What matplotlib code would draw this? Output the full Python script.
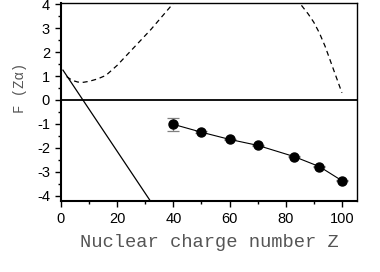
import matplotlib
matplotlib.use('Agg')
import matplotlib.pyplot as plt
from matplotlib.ticker import MultipleLocator

plt.rcParams['axes.unicode_minus'] = False

# measured points with error bars
z_pts = [40, 50, 60, 70, 83, 92, 100]
f_pts = [-1.02, -1.35, -1.65, -1.9, -2.37, -2.79, -3.38]
f_err = [0.26, 0.05, 0.03, 0.03, 0.03, 0.03, 0.03]

# solid straight line
z_lin = [0.7, 32.5]
f_lin = [1.25, -4.35]

# dashed curve (leaves the frame between Z~40 and Z~85)
z_dash = [2, 4, 6, 8, 10, 13, 16, 20, 24, 28, 32, 36, 40, 50, 62, 75,
          85, 88, 90, 92, 94, 96, 98, 100]
f_dash = [0.98, 0.82, 0.75, 0.74, 0.78, 0.88, 1.03, 1.45, 1.95, 2.45,
          2.95, 3.5, 4.05, 5.2, 5.7, 5.2, 4.05, 3.6, 3.25, 2.8, 2.25,
          1.6, 0.95, 0.3]

fig = plt.figure(figsize=(3.8, 2.72), dpi=100)
ax = fig.add_axes([0.1605, 0.261, 0.7785, 0.728])

ax.axhline(0, color='black', lw=1.3)
ax.plot(z_lin, f_lin, color='black', lw=0.9)
ax.plot(z_dash, f_dash, color='black', lw=0.9, ls=(0, (4, 3)))
ax.errorbar(z_pts, f_pts, yerr=f_err, fmt='none', ecolor='gray',
            elinewidth=0.9, capsize=4, capthick=0.9)
ax.plot(z_pts, f_pts, color='black', lw=0.8,
        marker='o', ms=6.5, mfc='black', mec='black')

ax.set_xlim(0, 105.3)
ax.set_ylim(-4.23, 4.06)
ax.xaxis.set_major_locator(MultipleLocator(20))
ax.xaxis.set_minor_locator(MultipleLocator(10))
ax.yaxis.set_major_locator(MultipleLocator(1))
ax.yaxis.set_minor_locator(MultipleLocator(0.5))
ax.tick_params(which='major', direction='out', length=4, width=1,
               labelsize=10.5, pad=4)
ax.tick_params(which='minor', direction='out', length=2.5, width=1)
for lab in ax.get_xticklabels() + ax.get_yticklabels():
    lab.set_family('Liberation Sans')

for side in ['left', 'bottom']:
    ax.spines[side].set_linewidth(1.5)
for side in ['top', 'right']:
    ax.spines[side].set_linewidth(1.0)

ax.set_xlabel('Nuclear charge number Z', family=['Liberation Mono', 'DejaVu Sans'],
              fontsize=13.5, color='#555555', labelpad=6)
ax.set_ylabel('F (Z\u03b1)', family=['Liberation Mono', 'DejaVu Sans'],
              fontsize=10, color='#555555')
ax.yaxis.set_label_coords(-0.115, 0.57)

fig.savefig('out.png', dpi=100)
